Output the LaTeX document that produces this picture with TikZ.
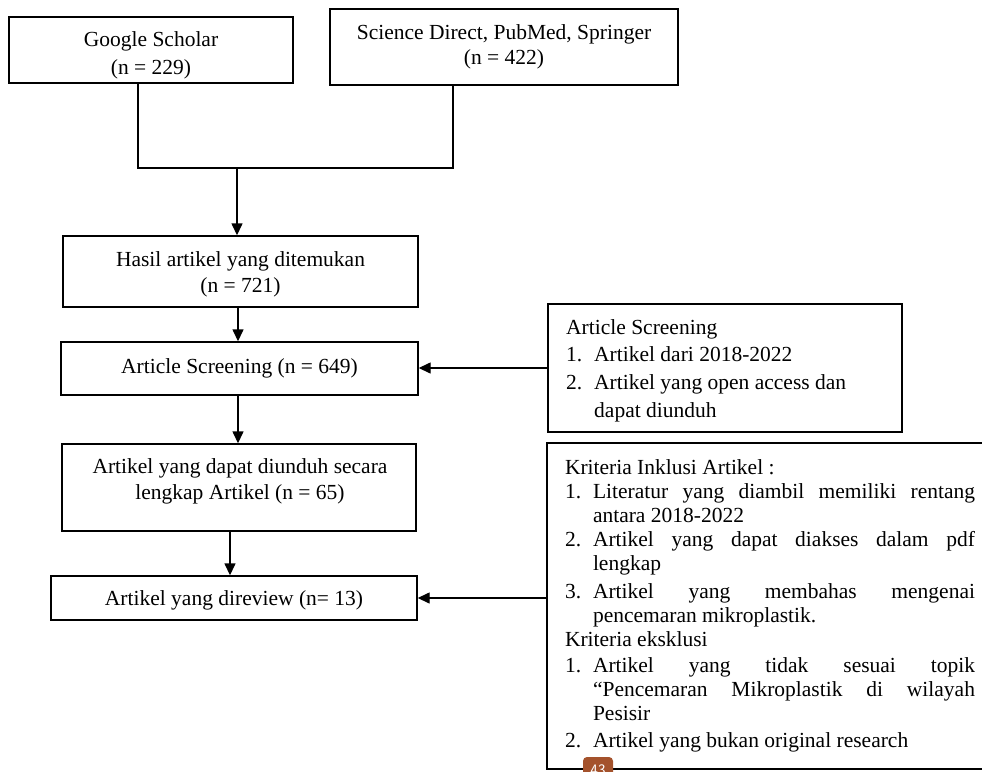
\documentclass[tikz,border=0pt]{standalone}
\usepackage{fontspec}
\setmainfont{Liberation Serif}
\usetikzlibrary{arrows.meta}
\definecolor{badge}{HTML}{A4522C}
\newcommand\myitem[2]{\par\noindent\hangindent=28pt\hangafter=1\hbox to 28pt{#1\hfil}#2}
\begin{document}
\begin{tikzpicture}[x=1pt,y=-1pt,
  box/.style={draw, line width=1.4pt, inner sep=0pt, align=center},
  txt/.style={inner sep=0pt, align=center},
  ln/.style={line width=1.4pt},
  arr/.style={line width=1.4pt, -{Triangle[length=12pt,width=11pt]}},
  fa/.style={font=\fontsize{21.5}{26}\selectfont}]
\useasboundingbox (0,0) rectangle (982,771);
\clip (0,0) rectangle (982,771);
\fill[white] (0,0) rectangle (982,771);

% left column
\node[box, minimum width=284pt, minimum height=66pt] (gs) at (151,50) {};
\node[txt, font=\fontsize{21.5}{28}\selectfont] (gstxt) at (151,55) {Google Scholar\\(n = 229)};
\node[box, fa, font=\fontsize{21.5}{25}\selectfont, minimum width=348pt, minimum height=76pt] (sd) at (504,47) {Science Direct, PubMed, Springer\\(n = 422)};
\node[box, minimum width=355pt, minimum height=71pt] (hasil) at (240.5,271.5) {};
\node[txt, fa] (hasiltxt) at (240.5,274.5) {Hasil artikel yang ditemukan\\(n = 721)};
\node[box, fa, minimum width=357pt, minimum height=53pt] (scr) at (239.5,368.5) {Article Screening (n = 649)};
\node[box, minimum width=354pt, minimum height=87pt] (dapat) at (239,487.5) {};
\node[txt, fa] (dapattxt) at (240,481.5) {Artikel yang dapat diunduh secara\\lengkap Artikel (n = 65)};
\node[box, minimum width=366pt, minimum height=44pt] (rev) at (234,598) {};
\node[txt, fa] (revtxt) at (234,600.5) {Artikel yang direview (n= 13)};

% right column
\node[draw, line width=1.4pt, minimum width=354pt, minimum height=128pt, inner sep=0pt] (side) at (725,368) {};
\node[anchor=north west, inner sep=0pt, text width=318pt, align=justify,
  font=\fontsize{21.5}{27.7}\selectfont] (sidetxt) at (566,319)
  {\parindent0pt\rightskip=0pt plus 1fil\relax
   \noindent Article Screening
   \myitem{1.}{Artikel dari 2018-2022}
   \myitem{2.}{Artikel yang open access dan\hfil\break dapat diunduh}\par};

\node[draw, line width=1.4pt, inner xsep=18pt, inner ysep=0pt, text width=410pt, minimum height=326pt, align=justify,
  font=\fontsize{21.5}{24}\selectfont] (big) at (770,606)
  {\parindent0pt\tolerance=10000\hbadness=10000
   Kriteria Inklusi Artikel :
   \myitem{1.}{Literatur yang diambil memiliki rentang\linebreak antara 2018-2022}
   \myitem{2.}{Artikel yang dapat diakses dalam pdf\linebreak lengkap}
   \par\vspace{4pt}
   \myitem{3.}{Artikel yang membahas mengenai\linebreak pencemaran mikroplastik.}
   \par\noindent Kriteria eksklusi
   \par\vspace{2pt}
   \myitem{1.}{Artikel yang tidak sesuai topik\linebreak “Pencemaran Mikroplastik di wilayah\linebreak Pesisir}
   \par\vspace{3pt}
   \myitem{2.}{Artikel yang bukan original research}\par};

% connectors
\coordinate (merge) at (237,168);
\draw[ln] ([xshift=-13pt]gs.south) |- (merge) -| ([xshift=-51pt]sd.south);
\draw[arr] (merge) -- (merge |- hasil.north);
\draw[arr] ([xshift=-2.5pt]hasil.south) -- ([xshift=-2.5pt]hasil.south |- scr.north);
\draw[arr] ([xshift=-1.5pt]scr.south) -- ([xshift=-1.5pt]scr.south |- dapat.north);
\draw[arr] ([xshift=-9pt]dapat.south) -- ([xshift=-9pt]dapat.south |- rev.north);
\draw[arr] (side.west) -- (side.west -| scr.east);
\draw[arr] (big.west |- rev.east) -- (rev.east);

% page badge
\node[fill=badge, rounded corners=4pt, minimum width=30pt, minimum height=26pt, inner sep=0pt,
  text=white, font=\fontsize{16}{16}\selectfont\sffamily] (pg) at (598,770) {43};
\end{tikzpicture}
\end{document}
